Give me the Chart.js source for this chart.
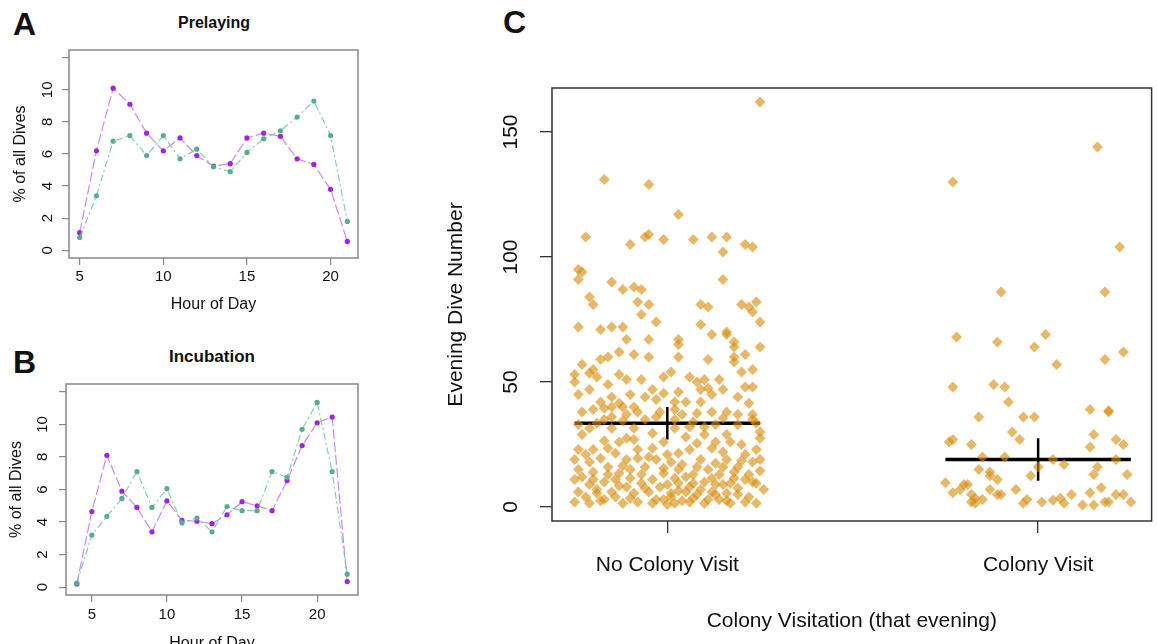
<!DOCTYPE html>
<html>
<head>
<meta charset="utf-8">
<script src="https://cdn.jsdelivr.net/npm/chart.js@4"></script>
<style>
  body { margin: 0; width: 1157px; height: 644px; overflow: hidden; background: #fff;
         font-family: "Liberation Sans", Arial, sans-serif; position: relative; color: #111; }
  canvas, .txt { position: absolute; }
  .letter { font-weight: bold; font-size: 32px; line-height: 32px; }
  .title { font-weight: bold; font-size: 16px; line-height: 16px; text-align: center; width: 200px; }
</style>
</head>
<body>
<div class="txt letter" style="left:13px;top:8px">A</div>
<div class="txt letter" style="left:13px;top:346px">B</div>
<div class="txt letter" style="left:503px;top:6px">C</div>
<div class="txt title" style="left:114px;top:15px">Prelaying</div>
<div class="txt title" style="left:112px;top:348px;font-size:17px;line-height:17px">Incubation</div>
<canvas id="chartA" width="370" height="320" style="left:0;top:0"></canvas>
<canvas id="chartB" width="370" height="345" style="left:0;top:320px"></canvas>
<canvas id="chartC" width="727" height="644" style="left:430px;top:0"></canvas>
<script>
// Panel A - prelaying, % of dives by hour
const hoursA = [5, 6, 7, 8, 9, 10, 11, 12, 13, 14, 15, 16, 17, 18, 19, 20, 21];
const prelayPurple = [1.1, 6.2, 10.1, 9.1, 7.3, 6.2, 7.0, 5.9, 5.25, 5.4, 7.0, 7.3, 7.1, 5.7, 5.35, 3.8, 0.55];
const prelayTeal = [0.8, 3.4, 6.8, 7.15, 5.9, 7.15, 5.7, 6.3, 5.2, 4.9, 6.1, 6.95, 7.45, 8.3, 9.3, 7.15, 1.8];

// Panel B - incubation
const hoursB = [4, 5, 6, 7, 8, 9, 10, 11, 12, 13, 14, 15, 16, 17, 18, 19, 20, 21, 22];
const incubPurple = [0.2, 4.65, 8.1, 5.9, 4.9, 3.4, 5.3, 4.1, 4.05, 3.9, 4.45, 5.25, 5.0, 4.7, 6.55, 8.7, 10.1, 10.45, 0.35];
const incubTeal = [0.25, 3.2, 4.35, 5.45, 7.1, 4.9, 6.05, 3.95, 4.25, 3.4, 4.95, 4.7, 4.7, 7.1, 6.75, 9.7, 11.35, 7.1, 0.8];

const hourTicksA = [5, 10, 15, 20];
const hourTicksB = [5, 10, 15, 20];
const pctTicks = [0, 2, 4, 6, 8, 10, 12];

// Panel C - evening dive number by colony visitation (x = jittered group position)
const categories = ['No Colony Visit', 'Colony Visit'];
const noVisitPoints = [
  [1.25,162],[0.83,131],[0.95,129],[1.03,117],[0.78,108],[0.90,105],[0.94,108],[0.95,109],[0.99,107],[1.07,107],
  [1.12,108],[1.16,108],[1.15,102],[1.21,105],[1.23,104],[0.76,95],[0.77,94],[0.76,91],[0.85,90],[1.15,91],
  [0.88,87],[0.91,88],[0.93,87],[0.79,84],[0.80,81],[0.92,82],[0.95,81],[0.93,77],[0.97,74],[1.09,81],
  [1.11,80],[1.20,81],[1.22,80],[1.23,78],[1.24,82],[1.25,74],[0.76,72],[0.82,71],[0.85,72],[0.88,72],
  [0.89,67],[1.09,73],[1.12,69],[1.16,70],[1.16,69],[0.95,67],[1.03,67],[1.03,65],[1.18,66],[1.18,64],
  [1.25,64],[0.82,59],[0.84,60],[0.87,62],[0.91,61],[0.95,60],[1.03,60],[1.11,59],[1.18,60],[1.18,58],
  [1.21,61],[0.77,57],[0.80,55],[1.23,55],[0.75,50],
  [0.75,53],[0.79,53.5],[0.81,52],[0.87,53],[0.89,51],[0.93,51],[0.99,52],[1.01,54],[1.06,52],[1.08,50],
  [1.10,51],[1.14,51],[1.20,54],[1.21,48],[1.23,48],[0.84,49],
  [0.76,45],[0.79,47],[0.82,42],[0.85,44],[0.87,41.5],[0.94,44],[0.96,47],[0.97,43],[0.99,45.5],[1.02,42],
  [1.03,46],[1.05,42],[1.09,47],[1.09,42],[1.11,47.5],[1.12,45],[1.19,44],[1.22,41.5],
  [0.77,38],[0.80,39],[0.83,39.5],[0.85,40],[0.88,40],[0.91,40],[0.92,38],[0.85,36],[0.89,37],[0.98,38],
  [1.02,39],[1.04,37],[1.08,37.5],[1.12,38],[1.16,38],[1.19,37],[1.23,37],[0.83,35],[0.94,35],[1.02,35],
  [1.23,35],[0.76,33],[0.79,31.5],[0.85,31.5],[0.91,31.5],[0.96,29.5],[1.02,31.5],[1.06,32],[1.10,32],[1.13,33],
  [1.19,33],[1.24,33.5],[1.25,30],
  [0.77,29],[0.87,26],[0.89,27.5],[0.99,26],[1.08,25.5],[1.10,29],[1.16,29],[1.17,26],[1.25,27.5],[0.76,23],
  [0.80,23],[0.84,23.5],[0.86,21.5],[0.92,23],[0.96,23.5],[1.03,21.5],[1.06,23],[1.12,23.5],[1.15,22],[1.21,21],
  [1.24,23],
  [0.75,19],[0.79,18],[0.82,19.5],[0.84,16],[0.89,19],[0.92,19.5],[0.94,16],[0.97,19],[1.01,18],[1.04,17],
  [1.09,19],[1.13,17.5],[1.16,19],[1.19,16],[1.23,18],[1.25,19],[0.76,15],[0.80,14],[0.87,13.5],[0.90,15],
  [0.99,13.5],[1.03,15],[1.07,13],[1.11,15],[1.14,13],[1.18,14],[1.22,13],
  [0.75,11],[0.79,9],[0.83,10],[0.86,11],[0.89,8],[0.93,9.5],[0.96,11],[1.00,9],[1.03,9.5],[1.06,8],
  [1.10,10],[1.13,9],[1.17,9.5],[1.21,11],[1.24,9.5],[0.76,6],[0.81,5.5],[0.85,6],[0.91,5.5],[0.95,6],
  [1.01,5.5],[1.05,6],[1.08,5],[1.12,6],[1.16,5.5],[1.19,5],[1.26,7],
  [0.75,2],[0.79,1.5],[0.83,3],[0.88,1.5],[0.92,2],[0.96,1.5],[0.99,3],[1.02,1.5],[1.06,2],[1.10,1.5],
  [1.14,3],[1.17,1.5],[1.21,2],[1.24,1.5],
  [0.77,12],[0.78,4],[0.80,11],[0.81,7],[0.82,2.5],[0.84,13],[0.86,4],[0.87,8.5],[0.88,16.5],[0.90,11.5],
  [0.90,3.5],[0.93,13],[0.94,7.5],[0.95,20],[0.97,3],[0.98,8],[0.99,15.5],[1.00,1],[1.01,4],[1.02,11.5],
  [1.03,6.5],[1.04,2.5],[1.05,12],[1.07,3.5],[1.07,9.5],[1.08,16],[1.09,7],[1.11,3],[1.12,11.5],[1.13,5],
  [1.15,9],[1.15,16],[1.16,2.5],[1.18,11.5],[1.19,7.5],[1.20,18.5],[1.22,4],[1.23,10],[1.25,14.5],[0.78,21],
  [0.83,26.5],[0.91,27],[1.00,21],[1.05,28],[1.13,26],[1.20,25],[0.81,33.5],[0.88,34.5],[0.97,36],[1.07,34],
  [1.15,35.5],[0.90,45],[1.15,47]
];
const visitPoints = [
  [2.16,144],[1.77,130],[2.22,104],[1.90,86],[2.18,86],[1.78,68],[1.89,66],[2.02,69],[1.99,64],[2.18,59],
  [2.23,62],[2.05,57],[1.77,48],[1.88,49],[1.91,48],[1.92,42],[2.14,39],[2.19,38],[1.84,36],[1.96,36],
  [1.99,36],[2.15,29],[1.93,30],[1.95,27],[1.76,26],[1.77,27],[1.82,25],[2.14,24],[2.21,27],[2.23,25],
  [1.85,20],[1.91,20],[2.04,19],[2.21,19],[1.84,15],[1.87,14],[2.07,17],[2.00,16],[2.16,16],[2.15,13],
  [1.87,12.5],[1.89,11],[1.98,12.5],[2.24,13],[1.75,9.7],[1.80,9],[1.81,9],[1.87,7],[1.94,7],[2.17,7.7],
  [1.77,5.7],[1.79,7],[1.82,5],[1.83,3.5],[1.82,2],[1.85,3],[1.89,5],[1.90,5],[1.96,1.5],[1.97,3],
  [2.01,2],[2.04,2.7],[2.06,3.5],[2.07,1.5],[2.09,5],[2.12,0.8],[2.14,5.7],[2.15,0.8],[2.18,2],[2.19,2],
  [2.21,5],[2.23,5],[2.25,2],[2.19,38.5],[1.83,1.5]
];
const groupMeans = [33.5, 19];
const groupLow = [27, 10.5];
const groupHigh = [40, 27.5];
const meanHalfWidth = 0.25;
const diveTicks = [0, 50, 100, 150];

const boxPlugin = {
  id: 'box',
  afterDatasetsDraw(chart, args, opts) {
    const { ctx, chartArea: a } = chart;
    ctx.save();
    ctx.strokeStyle = opts.color;
    ctx.lineWidth = opts.width;
    ctx.strokeRect(a.left, a.top, a.right - a.left, a.bottom - a.top);
    ctx.restore();
  }
};

const FONT = '"Liberation Sans", Arial, sans-serif';
Chart.defaults.font.family = FONT;
Chart.defaults.color = '#111';

function hourPanel(id, hours, purple, teal, xTicks, g) {
  const pts = arr => hours.map((h, i) => ({ x: h, y: arr[i] }));
  return new Chart(document.getElementById(id), {
    type: 'scatter',
    data: {
      datasets: [
        { data: pts(teal), showLine: true, borderColor: 'rgba(110,196,168,0.85)', borderWidth: 1.2,
          borderDash: [7, 3, 2, 3], pointRadius: 2.6, pointBackgroundColor: '#55ae94', pointBorderWidth: 0 },
        { data: pts(purple), showLine: true, borderColor: 'rgba(170,60,240,0.6)', borderWidth: 1.2,
          borderDash: [10, 3], pointRadius: 2.6, pointBackgroundColor: '#a020f0', pointBorderWidth: 0 }
      ]
    },
    options: {
      responsive: false, animation: false,
      layout: { padding: { top: g.top, right: 12, left: 0, bottom: 0 } },
      plugins: { legend: { display: false }, tooltip: { enabled: false }, box: { color: '#888', width: 1.5 } },
      scales: {
        x: {
          type: 'linear', min: g.xMin, max: g.xMax,
          afterBuildTicks: s => { s.ticks = xTicks.map(v => ({ value: v })); },
          afterFit: s => { s.height = g.xH; },
          grid: { drawOnChartArea: false, tickLength: 7, color: '#888', lineWidth: 1.2 },
          border: { display: false },
          ticks: { padding: g.xPad, font: { size: 15 }, maxRotation: 0, autoSkip: false },
          title: { display: true, text: 'Hour of Day', font: { size: 16 }, padding: { top: 0, bottom: g.xTitlePad } }
        },
        y: {
          min: -0.48, max: 12.48,
          afterBuildTicks: s => { s.ticks = pctTicks.map(v => ({ value: v })); },
          afterFit: s => { s.width = g.yW; },
          grid: { drawOnChartArea: false, tickLength: 7, color: '#888', lineWidth: 1.2 },
          border: { display: false },
          ticks: { minRotation: 90, maxRotation: 90, crossAlign: 'center', padding: g.yPad, autoSkip: false,
                   font: { size: 15 }, callback: v => (v === 12 ? '' : v) },
          title: { display: true, text: '% of all Dives', font: { size: 16 }, padding: { top: g.yTitlePad, bottom: 0 } }
        }
      }
    },
    plugins: [boxPlugin]
  });
}

hourPanel('chartA', hoursA, prelayPurple, prelayTeal, hourTicksA,
  { top: 50, xMin: 4.36, xMax: 21.64, xH: 62, xPad: 3, xTitlePad: 5.5, yW: 69, yPad: 6, yTitlePad: 11 });
hourPanel('chartB', hoursB, incubPurple, incubTeal, hourTicksB,
  { top: 64, xMin: 3.28, xMax: 22.72, xH: 70, xPad: 4, xTitlePad: 12, yW: 66, yPad: 7.5, yTitlePad: 7 });

// Panel C
const toXY = p => ({ x: p[0], y: p[1] });
const meanLines = groupMeans.map((m, i) => ({
  type: 'line', data: [{ x: i + 1 - meanHalfWidth, y: m }, { x: i + 1 + meanHalfWidth, y: m }],
  borderColor: '#000', borderWidth: 3.5, pointRadius: 0, showLine: true
}));
const ciLines = groupMeans.map((m, i) => ({
  type: 'line', data: [{ x: i + 1, y: groupLow[i] }, { x: i + 1, y: groupHigh[i] }],
  borderColor: '#000', borderWidth: 2.5, pointRadius: 0, showLine: true
}));
const diamond = { pointStyle: 'rectRot', pointRadius: 5.4, pointBorderWidth: 0,
                  pointBackgroundColor: 'rgba(218,140,10,0.62)' };

new Chart(document.getElementById('chartC'), {
  type: 'scatter',
  data: {
    datasets: [
      { data: noVisitPoints.map(toXY), ...diamond },
      { data: visitPoints.map(toXY), ...diamond },
      ...meanLines, ...ciLines
    ]
  },
  options: {
    responsive: false, animation: false,
    layout: { padding: { top: 88, right: 2, left: 0, bottom: 0 } },
    plugins: { legend: { display: false }, tooltip: { enabled: false }, box: { color: '#333', width: 1.5 } },
    scales: {
      x: {
        type: 'linear', min: 0.689, max: 2.306,
        afterBuildTicks: s => { s.ticks = categories.map((c, i) => ({ value: i + 1 })); },
        afterFit: s => { s.height = 123; },
        grid: { drawOnChartArea: false, tickLength: 12, color: '#333', lineWidth: 1.3 },
        border: { display: false },
        ticks: { padding: 19.5, font: { size: 21 }, maxRotation: 0, autoSkip: false,
                 callback: v => categories[v - 1] },
        title: { display: true, text: 'Colony Visitation (that evening)', font: { size: 21 },
                 padding: { top: 0, bottom: 10.5 } }
      },
      y: {
        min: -5.6, max: 167.6,
        afterBuildTicks: s => { s.ticks = diveTicks.map(v => ({ value: v })); },
        afterFit: s => { s.width = 122; },
        grid: { drawOnChartArea: false, tickLength: 12, color: '#333', lineWidth: 1.3 },
        border: { display: false },
        ticks: { minRotation: 90, maxRotation: 90, crossAlign: 'center', padding: 11, autoSkip: false,
                 font: { size: 21 } },
        title: { display: true, text: 'Evening Dive Number', font: { size: 21 }, padding: { top: 14, bottom: 0 } }
      }
    }
  },
  plugins: [boxPlugin]
});
</script>
</body>
</html>
